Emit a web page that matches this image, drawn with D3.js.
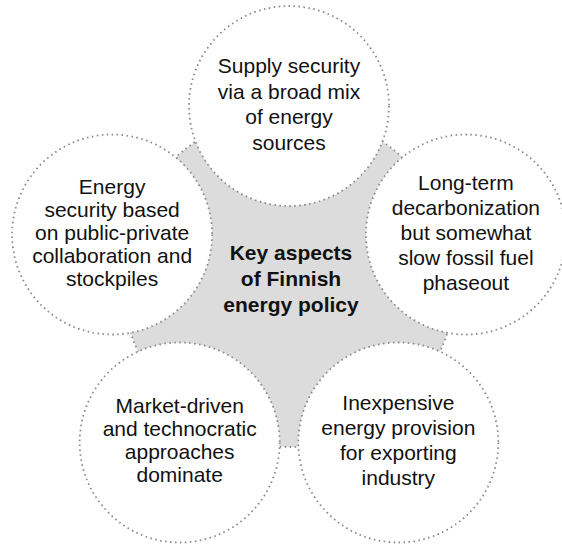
<!DOCTYPE html>
<html>
<head>
<meta charset="utf-8">
<script src="https://cdn.jsdelivr.net/npm/d3@7"></script>
<style>
  body { margin: 0; background: #fff; }
  svg { display: block; }
  text { font-family: "Liberation Sans", Arial, sans-serif; fill: #111; }
</style>
</head>
<body>
<svg width="562" height="547"></svg>
<script>
// labels, clockwise from the top circle
var aspects = [
  ["Supply security", "via a broad mix", "of energy", "sources"],
  ["Long-term", "decarbonization", "but somewhat", "slow fossil fuel", "phaseout"],
  ["Inexpensive", "energy provision", "for exporting", "industry"],
  ["Market-driven", "and technocratic", "approaches", "dominate"],
  ["Energy", "security based", "on public-private", "collaboration and", "stockpiles"]
];
var centerTitle = ["Key aspects", "of Finnish", "energy policy"];

// layout
var CX = 289, CY = 292;     // ring centre
var RING = 186;             // distance of circle centres
var R_CIRCLE = 100;
var HUB_DY = -12, HUB_R = 167; // grey hub disc
var lineGap = [25.5, 25, 25, 23, 23];
var FONT = 21;
var DOTS = "1.6 3.4";

var svg = d3.select("svg");

var angle = d3.scaleLinear()
    .domain([0, aspects.length])
    .range([-Math.PI / 2, 3 * Math.PI / 2]);

var nodes = aspects.map(function(lines, i) {
  return {
    lines: lines,
    gap: lineGap[i],
    x: CX + RING * Math.cos(angle(i)),
    y: CY + RING * Math.sin(angle(i))
  };
});

// grey hub, only its tips between the circles stay visible
svg.append("circle")
    .attr("cx", CX)
    .attr("cy", CY + HUB_DY)
    .attr("r", HUB_R)
    .attr("fill", "#dcdcdc")
    .attr("stroke", "#8c8c8c")
    .attr("stroke-width", 1.8)
    .attr("stroke-dasharray", DOTS);

var node = svg.append("g")
    .selectAll("g")
    .data(nodes)
    .enter().append("g")
      .attr("transform", function(d) { return "translate(" + d.x + "," + d.y + ")"; });

node.append("circle")
    .attr("r", R_CIRCLE)
    .attr("fill", "#fff")
    .attr("stroke", "#8c8c8c")
    .attr("stroke-width", 1.8)
    .attr("stroke-dasharray", DOTS);

node.each(function(d) {
  var g = d3.select(this);
  var n = d.lines.length;
  g.selectAll("text")
    .data(d.lines)
    .enter().append("text")
      .attr("text-anchor", "middle")
      .attr("font-size", FONT)
      .attr("y", function(l, j) { return (j - (n - 1) / 2) * d.gap + 5.5; })
      .text(function(l) { return l; });
});

svg.append("g")
    .selectAll("text")
    .data(centerTitle)
    .enter().append("text")
      .attr("text-anchor", "middle")
      .attr("font-size", FONT)
      .attr("font-weight", "bold")
      .attr("x", CX + 2)
      .attr("y", function(l, j) { return CY + HUB_DY + (j - 1) * 26 + 5.5; })
      .text(function(l) { return l; });
</script>
</body>
</html>
